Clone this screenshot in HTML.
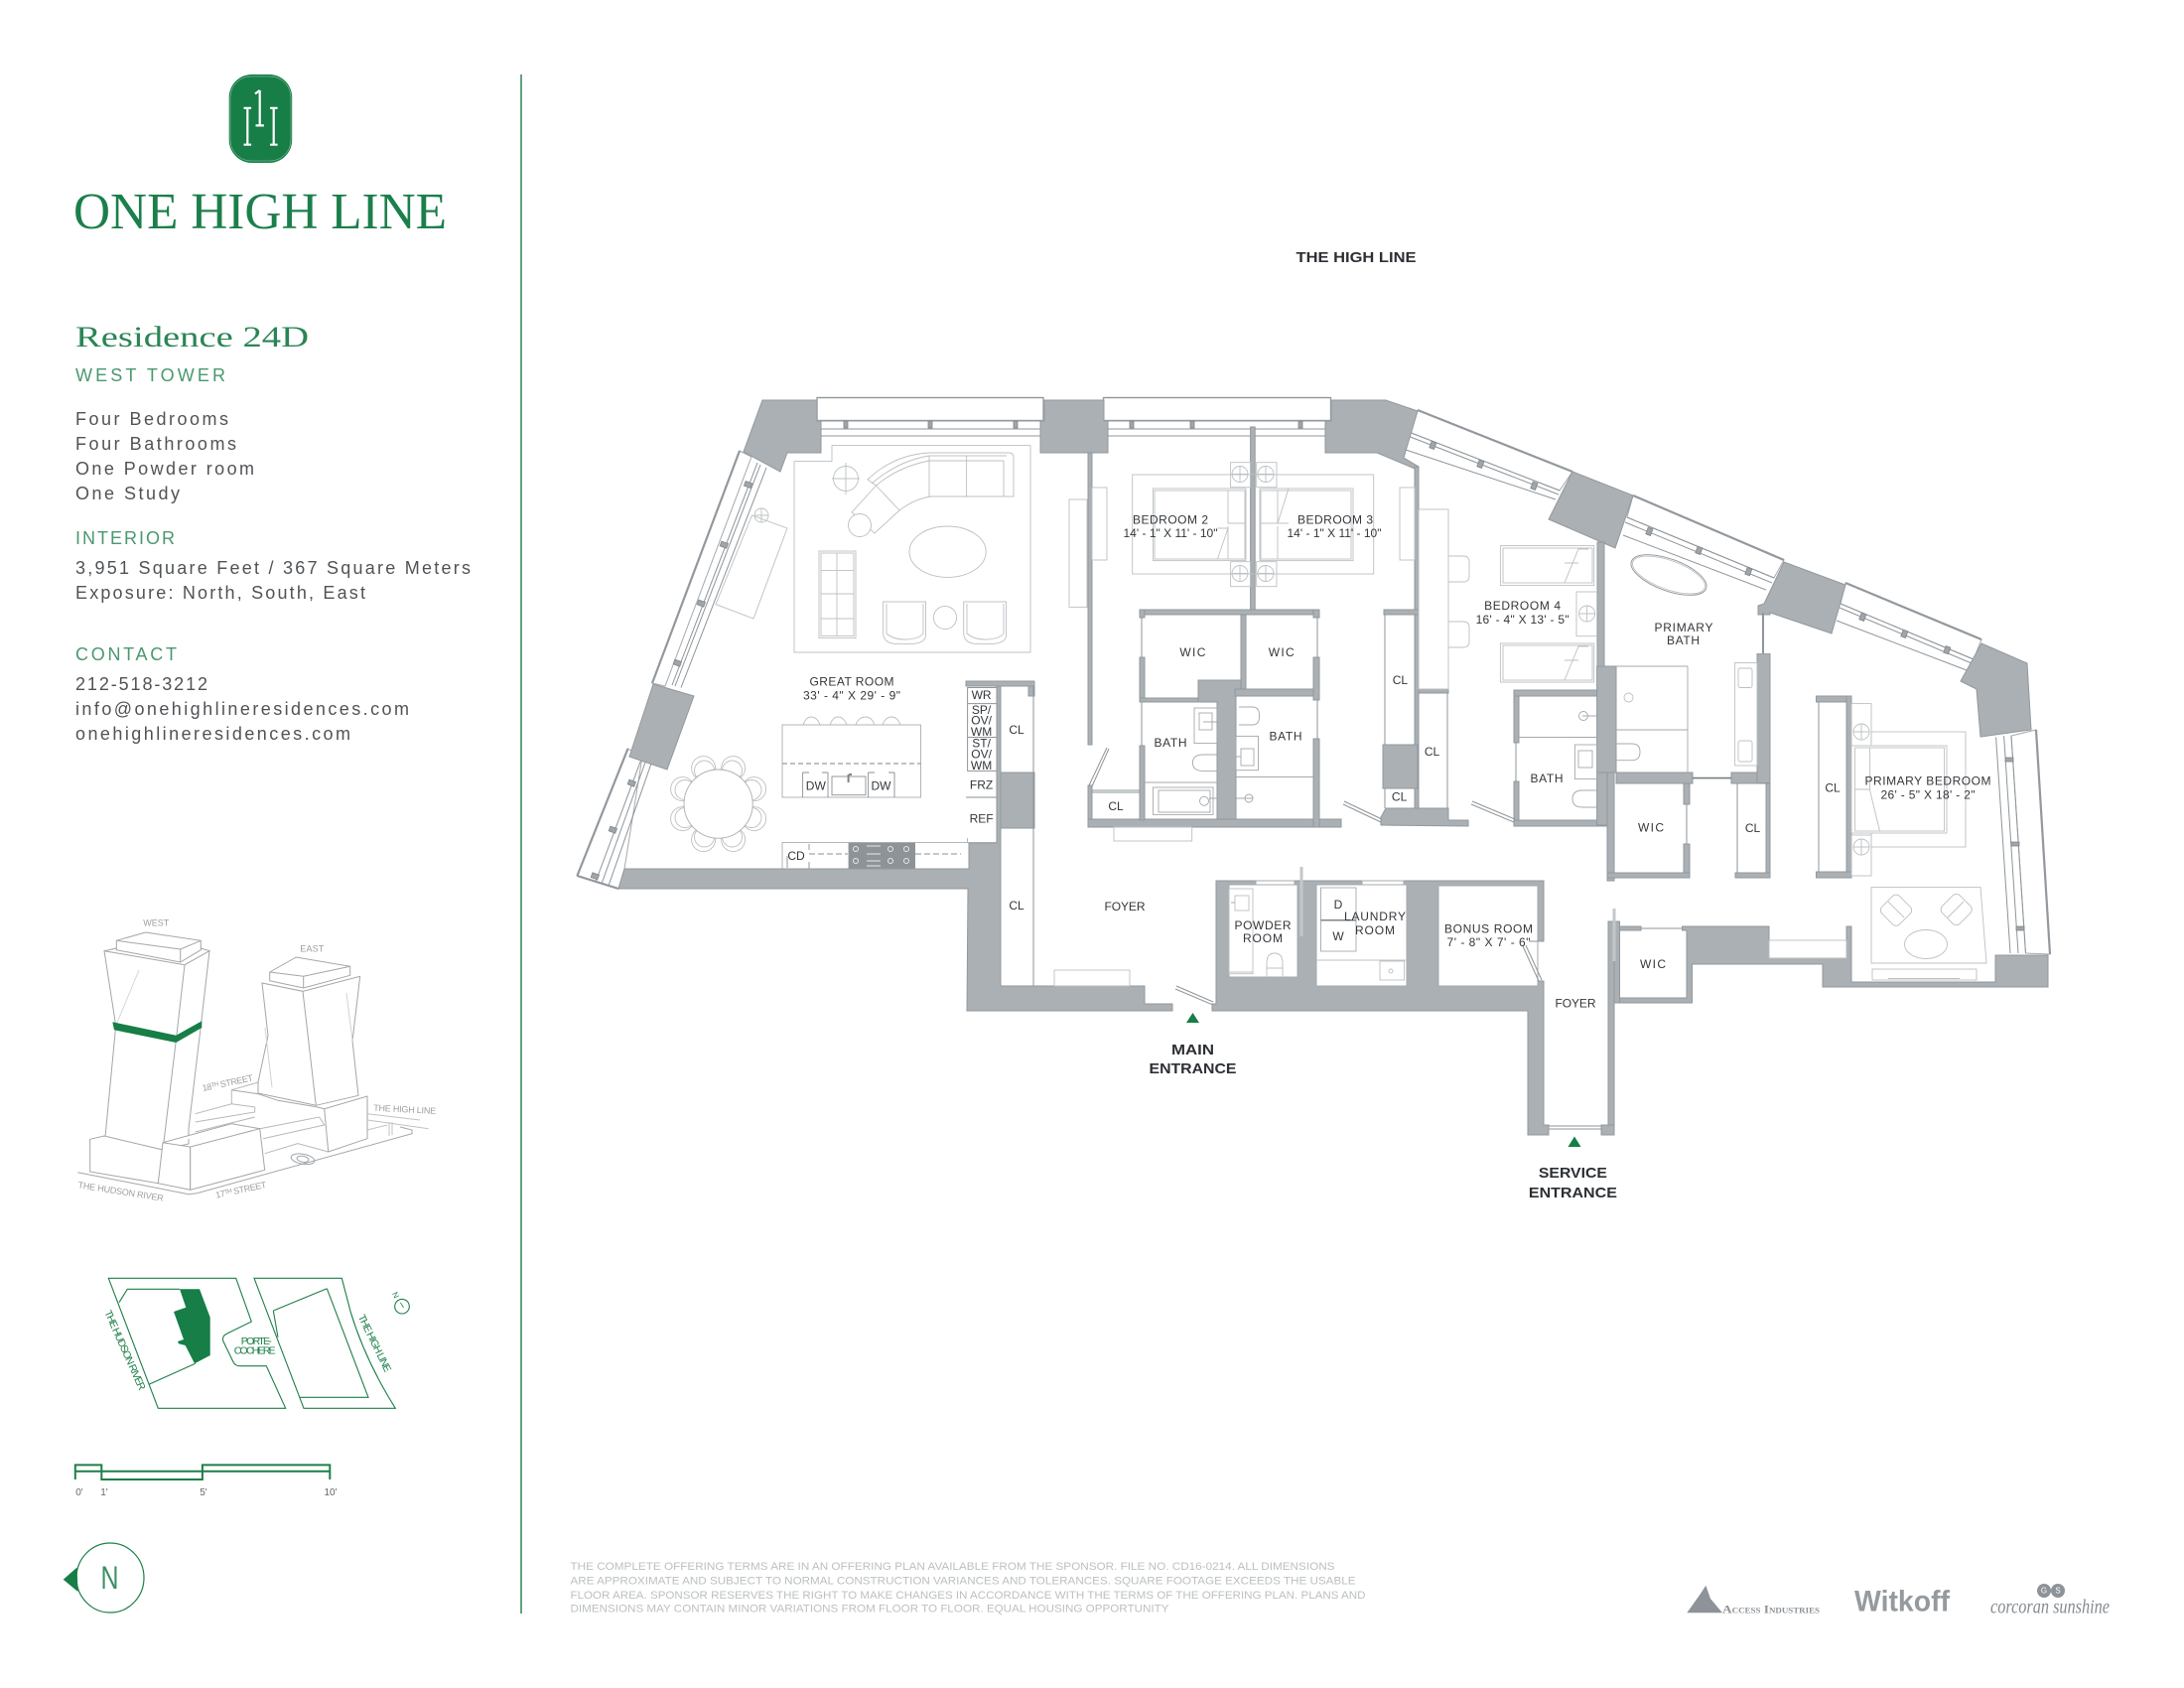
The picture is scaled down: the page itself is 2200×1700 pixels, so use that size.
<!DOCTYPE html>
<html><head><meta charset="utf-8"><title>Residence 24D</title>
<style>
html,body{margin:0;padding:0;background:#fff}
svg{display:block}
text{font-family:"Liberation Sans",sans-serif;fill:#33363a;dominant-baseline:central;text-anchor:middle}
.l{font-size:12px}
.t{text-anchor:start;dominant-baseline:alphabetic;font-size:18px;fill:#505356}
.g{text-anchor:start;dominant-baseline:alphabetic;font-size:18px;fill:#4a9870}
.w{fill:#abb0b4;stroke:#92989d;stroke-width:1}
.f{fill:#fff;stroke:#a5aaae;stroke-width:1}
.n{fill:none;stroke:#bcc0c3;stroke-width:.9}
.d{fill:none;stroke:#8e9499;stroke-width:1}
.o{fill:#fff;stroke:#9aa0a4;stroke-width:1.4}
.m{fill:#a0a5a9;stroke:#7f858a;stroke-width:.8}
.gl{fill:none;stroke:#1d7f48;stroke-width:1.1}
.s{font-size:9px;fill:#9a9ea2}
.sg{font-size:10.5px;fill:#1d7f48}
.dis{text-anchor:start;font-size:11px;fill:#bcc0c3}
</style></head><body>
<svg xmlns="http://www.w3.org/2000/svg" width="2200" height="1700" viewBox="0 0 2200 1700">
<rect width="2200" height="1700" fill="#fff"/>

<!-- LEFT PANEL -->
<line x1="525" y1="75" x2="525" y2="1625" stroke="#2b8556" stroke-width="1.5"/>
<rect x="230.7" y="75" width="63.5" height="89" rx="23" fill="#167e46"/>
<rect x="232" y="77" width="61" height="85" rx="21" fill="none" stroke="#a9cfba" stroke-width=".5"/>
<g stroke="#fff" stroke-width="2.2" fill="none">
<path d="M249.3 108.5V146M245.5 108.8h7.6M245.5 145.7h7.6M261.7 91V126.5M257.5 126.4h8.4M257 94.5l4.7-3.5M275.7 108.5V146M272 108.8h7.6M272 145.7h7.6"/>
</g>
<text x="74" y="230" style="font-family:'Liberation Serif',serif;font-size:52px;fill:#1c7f4b;text-anchor:start;dominant-baseline:alphabetic" textLength="376" lengthAdjust="spacingAndGlyphs">ONE HIGH LINE</text>
<text x="76" y="349" style="font-family:'Liberation Serif',serif;font-size:30px;fill:#2a8556;text-anchor:start;dominant-baseline:alphabetic" textLength="235" lengthAdjust="spacingAndGlyphs">Residence 24D</text>
<text class="g" x="76" y="384" textLength="151">WEST TOWER</text>
<text class="t" x="76" y="428" textLength="154">Four Bedrooms</text>
<text class="t" x="76" y="453" textLength="162">Four Bathrooms</text>
<text class="t" x="76" y="478" textLength="180">One Powder room</text>
<text class="t" x="76" y="503" textLength="105">One Study</text>
<text class="g" x="76" y="548" textLength="100">INTERIOR</text>
<text class="t" x="76" y="578" textLength="398">3,951 Square Feet / 367 Square Meters</text>
<text class="t" x="76" y="603" textLength="292">Exposure: North, South, East</text>
<text class="g" x="76" y="665" textLength="102">CONTACT</text>
<text class="t" x="76" y="695" textLength="133">212-518-3212</text>
<text class="t" x="76" y="720" textLength="336">info@onehighlineresidences.com</text>
<text class="t" x="76" y="745" textLength="277">onehighlineresidences.com</text>

<!-- Towers -->
<g fill="#fff" stroke="#a2a6aa" stroke-width="1">
<path d="M78.3 1180.7L190 1202.7 198.3 1201.7 415 1141.7 415 1138 403 1135" fill="none"/>
<path d="M370 1121.7L423 1128M370 1128L431.7 1136.7M370 1138L390 1133M392 1130V1144M395 1130V1143" fill="none" stroke="#c0c3c6"/>
<path d="M233.3 1097.7L260 1090M233.3 1097.7V1111.7L196.7 1121.7M196.7 1130L256.7 1120 256.7 1115 233.3 1111.7M196.7 1140L256.7 1125" fill="none" stroke="#b5b9bc"/>
<path d="M261.7 1136.7L321.7 1125 326.7 1133 265 1146.7M266.7 1161.7L300 1151.7 330.7 1160" fill="none" stroke="#b5b9bc"/>
<path d="M105 957.7L186 971.7 211 957.7 202.7 1030 190 1136.7 190 1152 164 1158 106 1145 116.7 1033Z"/>
<path d="M186 971.7L177.3 1048 165 1150" fill="none"/>
<path d="M140 977L116.7 1033" fill="none" stroke="#d5d7d9"/>
<path d="M105 957.7L117.3 955M202.3 955L211 957.7" fill="none"/>
<path d="M117.3 947.3L146.7 939 202.3 947.3 202.3 956.7 181.7 969 117.3 956.7Z"/>
<path d="M117.3 947.3L181.7 956 202.3 947.3M181.7 956V969" fill="none"/>
<path d="M90.7 1147.3L105 1144 164 1158 159.3 1191.7 90.7 1180Z"/>
<path d="M164 1150.7L191.7 1155 191.7 1198.3 159.3 1191.7Z"/>
<path d="M164 1150.7L233.3 1131.7 261.7 1136.7 266.7 1178.3 191.7 1198.3 191.7 1155 261.7 1136.7" />
<path d="M264 990L305 998.3 362.7 983.3 355 1048.3 361 1103.3 318.3 1113.3 260 1101 260 1090 270 1043Z"/>
<path d="M305 998.3L318.3 1113.3" fill="none"/>
<path d="M349 1000L355 1048M267 1035L274 1095" fill="none" stroke="#cfd2d4"/>
<path d="M271.7 979L298.3 964 352.7 973.3 352.7 982.3 305.7 995 271.7 987.7Z"/>
<path d="M271.7 979L305.7 983.3 352.7 973.3M305.7 983.3V995" fill="none"/>
<path d="M233.3 1097.7L260 1101.7 280 1108.3 320 1115 326.7 1116.7 370 1104 370 1146.7 330.7 1160 326.7 1116.7" />
<ellipse cx="305" cy="1167.3" rx="12" ry="5" fill="none" transform="rotate(10 305 1167.3)"/>
<ellipse cx="305" cy="1167.3" rx="6" ry="3" fill="none" transform="rotate(10 305 1167.3)"/>
</g>
<polygon points="113.3,1029.3 177.3,1042.7 203.3,1028.3 203.3,1035 177.3,1050 115,1037.3" fill="#167e46"/>
<text class="s" x="157.3" y="929.3" textLength="26">WEST</text>
<text class="s" x="314.3" y="955.7" textLength="24">EAST</text>
<text class="s" transform="translate(229.3 1090.7) rotate(-12)" x="0" y="0" textLength="52">18ᵀᴴ STREET</text>
<text class="s" transform="translate(407.7 1117.3) rotate(3)" x="0" y="0" textLength="63">THE HIGH LINE</text>
<text class="s" transform="translate(121.7 1200) rotate(9)" x="0" y="0" textLength="87">THE HUDSON RIVER</text>
<text class="s" transform="translate(242.7 1198.3) rotate(-12)" x="0" y="0" textLength="52">17ᵀᴴ STREET</text>

<!-- Site plan -->
<path class="gl" d="M109.3 1287.3H237.7L253.3 1331 228.3 1343.3Q223 1346 225 1351L235 1371.7Q237 1375.7 241.7 1375.7H268.3L287.7 1418.3H159.3Z"/>
<path class="gl" d="M120 1311.7L128.3 1298.3H181M150 1394.3L196.7 1373.3"/>
<polygon points="181,1298.3 201,1298.3 211.7,1326.7 211.7,1365 196,1373.3 186.7,1355 180,1353.3 179,1351 185,1349 175,1321 187.3,1316.7" fill="#167e46"/>
<path class="gl" d="M256 1287.3H344.3L353.3 1321.7Q368 1370 398.3 1418.3H306Z"/>
<path class="gl" d="M329.3 1297.7L371 1407.3H302.3M275.3 1320L329.3 1297.7M275.3 1320L280 1346.7"/>
<text class="sg" x="258.3" y="1351" textLength="31">PORTE-</text>
<text class="sg" x="256.7" y="1360.3" textLength="42">COCHERE</text>
<text class="sg" transform="translate(125.5 1360) rotate(66)" x="0" y="0" textLength="87">THE HUDSON RIVER</text>
<text class="sg" transform="translate(377 1353) rotate(64)" x="0" y="0" textLength="63">THE HIGH LINE</text>
<circle cx="405" cy="1315.7" r="7.3" class="gl" stroke-width=".9"/>
<path d="M403.3 1311.7L406.6 1317" stroke="#1d7f48" stroke-width=".8"/>
<text class="sg" transform="translate(398.3 1304.3) rotate(65)" x="0" y="0" style="font-size:8px">N</text>
<path class="gl" style="stroke-width:2" d="M75.8 1490V1475.4H102.3V1490H203.9V1475.4H332.3V1490M75.8 1481.7H332.3"/>
<text x="80" y="1503.5" style="font-size:10px;fill:#666">0'</text><text x="105" y="1503.5" style="font-size:10px;fill:#666">1'</text><text x="205" y="1503.5" style="font-size:10px;fill:#666">5'</text><text x="333" y="1503.5" style="font-size:10px;fill:#666">10'</text>
<ellipse cx="111" cy="1589" rx="34" ry="35" fill="#fff" stroke="#1d7f48" stroke-width="1.2"/>
<polygon points="63.7,1590.8 77.5,1578.6 78.5,1603" fill="#167e46"/>
<text x="110.5" y="1589" style="font-size:32px;fill:#3b9068" textLength="18" lengthAdjust="spacingAndGlyphs">N</text>

<!-- WINDOWS -->
<g>
<rect class="o" x="823" y="400.5" width="228" height="23"/>
<rect class="o" x="1111.5" y="400.5" width="229" height="23"/>
<path class="d" d="M827 432H1048M827 439H1048M1116 432H1335M1116 439H1335"/>
<path class="d" stroke-width="2" d="M823 400.5H1051M1111.5 400.5H1340.5M827 424H1048M1116 424H1335"/>
<g class="m"><rect x="850" y="424" width="4" height="7"/><rect x="935" y="424" width="4" height="7"/><rect x="1021" y="424" width="4" height="7"/><rect x="1138" y="424" width="4" height="7"/><rect x="1199" y="424" width="4" height="7"/><rect x="1308" y="424" width="4" height="7"/></g>

<polygon class="f" points="745,454 657,688 670,691 757,460"/>
<line x1="745" y1="454" x2="657" y2="688" stroke="#92989d" stroke-width="2.2"/>
<path class="d" d="M763 466L677 690M766 468L680 691M772 471L686 692.5"/>
<g class="m"><rect x="750" y="485" width="7" height="5" transform="rotate(20 752 488)"/><rect x="726" y="546" width="7" height="5" transform="rotate(20 729 548)"/><rect x="703" y="605" width="7" height="5" transform="rotate(20 706 607)"/><rect x="679" y="665" width="7" height="5" transform="rotate(20 682 667)"/></g>
<polygon class="f" points="632.5,754 581.4,882 623,895 629,875 647,762"/>
<line x1="632.5" y1="754" x2="581.4" y2="882" stroke="#92989d" stroke-width="2.2"/>
<line x1="581.4" y1="882" x2="623" y2="895" stroke="#92989d" stroke-width="2.2"/>
<path class="d" d="M647 762L600 888M651 765L606 890M656 769L613 892"/>
<g class="m"><rect x="633" y="786" width="7" height="5" transform="rotate(20 636 788)"/><rect x="614" y="833" width="7" height="5" transform="rotate(20 617 835)"/><rect x="596" y="880" width="7" height="5" transform="rotate(20 600 882)"/></g>

<polygon class="f" points="1428,413 1584,475 1571,494 1419,435"/>
<line x1="1428" y1="413" x2="1584" y2="475" stroke="#92989d" stroke-width="2.2"/>
<path class="d" d="M1419 435L1571 494M1418 439L1570 498M1416 453L1567 503"/>
<g class="m"><rect x="1441" y="445" width="5" height="7" transform="rotate(20 1444 448)"/><rect x="1489" y="464" width="5" height="7" transform="rotate(20 1492 467)"/><rect x="1543" y="486" width="5" height="7" transform="rotate(20 1546 489)"/></g>

<polygon class="f" points="1645,499 1797,564 1787,582 1639,521"/>
<line x1="1645" y1="499" x2="1797" y2="564" stroke="#92989d" stroke-width="2.2"/>
<path class="d" d="M1639 521L1787 582M1637 526L1785 587M1635 539L1779 594"/>
<g class="m"><rect x="1659" y="532" width="5" height="7" transform="rotate(20 1662 535)"/><rect x="1709" y="551" width="5" height="7" transform="rotate(20 1712 554)"/><rect x="1759" y="572" width="5" height="7" transform="rotate(20 1761 575)"/></g>

<polygon class="f" points="1859,587 1996,644 1988,664 1854,608"/>
<line x1="1859" y1="587" x2="1996" y2="644" stroke="#92989d" stroke-width="2.2"/>
<path class="d" d="M1854 608L1988 664M1853 612L1986 668M1850 625L1981 675"/>
<g class="m"><rect x="1874" y="618" width="5" height="7" transform="rotate(20 1877 621)"/><rect x="1916" y="635" width="5" height="7" transform="rotate(20 1919 638)"/><rect x="1959" y="651" width="5" height="7" transform="rotate(20 1961 654)"/></g>

<polygon class="f" points="2051,735 2065,961 2040.5,960 2026,741"/>
<line x1="2051" y1="735" x2="2065" y2="961" stroke="#92989d" stroke-width="2.2"/>
<path class="d" d="M2010.6 742.5L2025 960M2018.6 741L2033 960M2026 741L2040.5 960"/>
<g class="m"><rect x="2020" y="763" width="8" height="4"/><rect x="2026" y="848" width="8" height="4"/><rect x="2031" y="933" width="8" height="4"/></g>
</g>

<!-- FURNITURE (great room) -->
<g class="n">
<polygon class="n" points="838,448.6 1038,448.6 1038,657 800,657 800,464.6 838,464.6"/>
<circle cx="852" cy="482" r="12.5"/><path d="M838 482H866M852 466V498"/>
<path fill="#fff" d="M874 483Q900 458 936 456H1016Q1021 456 1021 461V500H973.6 938Q922 502 906 514L881 537 858 516 882.5 489Z"/>
<path d="M936 459V500.7M973.6 459V500.7M1011 464V500M878 487Q905 464 936 459H1014M882.5 489Q905 470 936 464H1011M882.5 489L906 514"/>
<circle cx="866" cy="529" r="11.5" fill="#fff"/>
<ellipse cx="954.6" cy="555.7" rx="38.6" ry="25.7"/>
<rect x="825" y="555" width="37" height="87.5"/><rect x="827" y="557" width="33" height="83.5"/><path d="M843 557V640M827 574.6H860M827 598H860M827 623H860"/>
<path d="M889.6 606H932.5V640Q932 648.6 915 648.6H905Q890 648.6 889.6 638ZM893 608V638Q900 644 911 644 925 644 930 638V608"/>
<path d="M970.7 606H1013.6V640Q1013 648.6 996 648.6H986Q971 648.6 970.7 638ZM974 608V638Q981 644 992 644 1006 644 1011 638V608"/>
<circle cx="952" cy="622" r="11.6"/>
<polygon points="757.5,519 793,532 759,623 721,608.6"/>
<circle cx="767" cy="519" r="7"/><path d="M767 512V526M760 519H774"/>
<!-- dining -->
<g>
<circle cx="759.6" cy="824.6" r="12"/><circle cx="759.6" cy="794.6" r="12"/><circle cx="738.6" cy="845.6" r="12"/><circle cx="738.6" cy="773.6" r="12"/><circle cx="708.6" cy="845.6" r="12"/><circle cx="708.6" cy="773.6" r="12"/><circle cx="687.6" cy="824.6" r="12"/><circle cx="687.6" cy="794.6" r="12"/>
<circle cx="757" cy="823.5" r="10"/><circle cx="757" cy="795.5" r="10"/><circle cx="737.5" cy="843" r="10"/><circle cx="737.5" cy="776" r="10"/><circle cx="709.5" cy="843" r="10"/><circle cx="709.5" cy="776" r="10"/><circle cx="690" cy="823.5" r="10"/><circle cx="690" cy="795.5" r="10"/>
</g>
<circle cx="723.6" cy="809.6" r="34.6" fill="#fff" stroke="#a9adb1"/>
<!-- island -->
<path d="M809 730Q812 722 817 722 823 722 826 730M836 730Q839 722 844 722 850 722 853 730M862 730Q865 722 872 722 878 722 881 730M889 730Q892 722 898 722 904 722 907 730"/>
<rect x="788" y="730" width="139.5" height="73" stroke="#a9adb1"/>
<path d="M788 769H927.5" stroke-dasharray="5 3" stroke="#7f858a"/>
<path d="M808.6 803V778M834 803V778M874.6 803V778M901 803V778M808.6 778H815M828 778H834M874.6 778H881M895 778H901" stroke="#8a9095"/>
<rect x="838" y="782" width="34" height="18.7" stroke="#8a9095"/>
<path d="M854.6 780V788M855 780H858" stroke="#7f858a" stroke-width="2"/>
<path d="M788 875V848.6H976M974.6 844V848.6H1004" stroke="#a9adb1"/>
<path d="M815 860H854M922 860H968" stroke-dasharray="6 3" stroke="#8a9095"/>
<path d="M793 874V862M815 856V850M815 875V868" stroke="#8a9095"/>
<path d="M973 803H1004" stroke="#8a9095"/>
</g>
<rect x="854.6" y="848.6" width="67.4" height="26" fill="#8e9398"/>
<g fill="none" stroke="#e8e9ea" stroke-width="1"><circle cx="862" cy="855" r="2.5"/><circle cx="862" cy="867" r="2.5"/><circle cx="897" cy="855" r="2.5"/><circle cx="897" cy="867" r="2.5"/><circle cx="913" cy="855" r="2.5"/><circle cx="913" cy="867" r="2.5"/><path d="M873 852H887M873 860H887M873 867H887M873 872H887"/></g>
<rect x="974.6" y="692.5" width="29.4" height="83.9" fill="#fff" stroke="#8e9499"/>
<path class="d" d="M974.6 708.6H1004M974.6 742.5H1004"/>

<!-- WALLS -->
<g>
<polygon class="w" points="768,403 823,403 823,424 827,424 827,456 793,456 786,475 749,455"/>
<polygon class="w" points="658,689 699,701 672,775 634,762"/>
<polygon class="w" points="629,875 976,875 976,849 1004,849 1004,686 1008,686 1008,993 1153,993 1153,1011 1181,1011 1181,1018 974,1018 975,895 623,895"/>
<rect class="w" x="973" y="686" width="69" height="5"/>
<rect class="w" x="1008" y="778" width="34" height="56"/>
<rect class="w" x="1036" y="691" width="6" height="10"/>
<polygon class="w" points="1048,424 1052,424 1052,403 1112,403 1112,424 1116,424 1116,456 1048,456"/>
<rect class="w" x="1096" y="456" width="4" height="294"/>
<rect class="w" x="1096" y="791" width="4" height="42"/>
<rect class="w" x="1096" y="825" width="255" height="8"/>
<rect class="w" x="1148" y="614" width="181" height="5"/>
<rect class="w" x="1148" y="614" width="5" height="8"/>
<rect class="w" x="1148" y="662" width="5" height="45"/>
<rect class="w" x="1148" y="751" width="5" height="75"/>
<rect class="w" x="1148" y="703" width="78" height="4"/>
<polygon class="w" points="1207,685 1250,685 1250,694 1245,694 1245,825 1226,825 1226,707 1207,707"/>
<rect class="w" x="1250" y="619" width="5" height="75"/>
<rect class="w" x="1244" y="694" width="85" height="7"/>
<rect class="w" x="1323" y="614" width="6" height="8"/>
<rect class="w" x="1323" y="662" width="6" height="43"/>
<rect class="w" x="1323" y="744" width="6" height="89"/>
<rect class="w" x="1259.6" y="430" width="4.6" height="184"/>
<polygon class="w" points="1335,424 1341,424 1341,403 1396,403 1428,414 1414,461 1429,470 1425,472 1387,456 1335,456"/>
<rect class="w" x="1425" y="470" width="4" height="345"/>
<rect class="w" x="1394" y="614" width="35" height="5"/>
<rect class="w" x="1393" y="750" width="35" height="44"/>
<polygon class="w" points="1391,831 1391,823 1396,814 1459,814 1459,826 1479,826 1479,832"/>
<rect class="w" x="1429" y="694" width="30" height="4"/>
<polygon class="w" points="1584,475 1645,499 1627,552 1560,523"/>
<rect class="w" x="1609" y="546" width="7" height="125"/>
<rect class="w" x="1525" y="695" width="5" height="53"/>
<rect class="w" x="1525" y="787" width="5" height="45"/>
<rect class="w" x="1525" y="695" width="84" height="6"/>
<rect class="w" x="1525" y="826" width="94" height="6"/>
<rect class="w" x="1608.6" y="671" width="19.4" height="107"/>
<rect class="w" x="1608.6" y="778" width="17.4" height="53"/>
<rect class="w" x="1619" y="778" width="7" height="109"/>
<rect class="w" x="1628" y="778" width="77" height="11"/>
<rect class="w" x="1696" y="789" width="6" height="21"/>
<rect class="w" x="1696" y="850" width="6" height="34"/>
<rect class="w" x="1619" y="879" width="83" height="5"/>
<rect class="w" x="1744" y="778" width="39" height="11"/>
<rect class="w" x="1770" y="658.6" width="13" height="130"/>
<rect class="w" x="1779" y="789" width="4" height="95"/>
<rect class="w" x="1748" y="879" width="35" height="5"/>
<rect class="w" x="1829.5" y="701" width="35.5" height="6"/>
<rect class="w" x="1860" y="701" width="5" height="183"/>
<rect class="w" x="1829.5" y="878" width="35.5" height="6"/>
<polygon class="w" points="1797,566 1859,589 1845,638 1783,617 1783,619 1771,619 1771,610 1777,608"/>
<polygon class="w" points="1996,648 2042,668 2046,735 1995,742 1991,694 1975,686"/>
<polygon class="w" points="1625,1010 1704.5,1010 1704.5,971 1836,971 1836,994 2063,994 2063,962 2010,962 2010,989 1865,989 1865,933 1860,933 1860,965 1782,965 1782,933 1694.5,933 1694.5,937 1699,937 1699,1005 1631.5,1005 1631.5,937 1653,937 1653,933 1631.5,933 1631.5,1010"/>
<rect class="w" x="1620" y="928" width="11.5" height="82"/>
<rect class="w" x="1620" y="928" width="6" height="215"/>
<rect class="w" x="1613" y="1133" width="13" height="10"/>
<polygon class="w" points="1225,887 1555,887 1555,948 1549,948 1549,988 1555,988 1555,1133 1560,1133 1560,1143 1539,1143 1539,1018 1221,1018 1221,1011 1225,1011"/>
<rect class="f" x="1238" y="891" width="69" height="93"/>
<rect class="f" x="1326" y="891" width="91" height="102"/>
<rect class="f" x="1449" y="892" width="100" height="101"/>
<rect x="1549.5" y="949" width="8" height="38" fill="#fff"/>
<rect class="f" x="1265" y="887" width="39" height="4"/>
<rect class="f" x="1372" y="887" width="42" height="4"/>
<line x1="1311" y1="873" x2="1311" y2="943" stroke="#c4c7ca" stroke-width="3"/>
<line x1="1626" y1="915" x2="1626" y2="968" stroke="#c4c7ca" stroke-width="3"/>
</g>
<!-- thin closets & glass -->
<g class="d">
<path d="M1150 622V662M1150 707V751M1327 622V662M1327 705V744M1395 619V750M1395 794V814M1458 698V814M1527 748V787M1699 810V850M1750 789V879M1832 707V878M1041 691V993M1100 796H1148M1100 798H1148"/>
<path d="M1097 791L1115 753M1100 792L1117 754" />
<path d="M1353 810L1391 828M1354 807L1392 825M1482 810L1525 828M1483 807L1526 825"/>
<path d="M1184 996L1221 1011.7M1185 993L1222 1009"/>
<path d="M1534 953L1550 988M1537 952L1553 987M1549 948H1540"/>
<path d="M1560 1134H1613M1560 1137H1613M1653 935H1694"/>
</g>
<line x1="1705" y1="783.6" x2="1744" y2="783.6" stroke="#747b80" stroke-width="1.6"/>
<line x1="1776" y1="617" x2="1776" y2="658" stroke="#8f959a" stroke-width="2"/>

<!-- FURNITURE others -->
<g class="n">
<rect x="1077" y="503" width="18" height="108.4"/><rect x="1100" y="491" width="15" height="73"/>
<rect x="1140.7" y="478" width="243" height="100"/>
<rect x="1161.4" y="492" width="93.6" height="72.6" fill="#fff"/><rect x="1269" y="492" width="94" height="72.6" fill="#fff"/>
<rect x="1163" y="494" width="91" height="69"/><rect x="1270" y="494" width="91" height="69"/>
<path d="M1237 494V527H1254M1237 530V563M1226.4 532H1237L1226.4 563M1287 494V527H1270M1287 530V563M1298 492L1287 527 1298 527"/>
<rect x="1239.6" y="465.7" width="20" height="25"/><rect x="1265.7" y="465.7" width="20.3" height="25"/><rect x="1239.6" y="565.7" width="20" height="25"/><rect x="1265.7" y="565.7" width="20.3" height="25"/>
<circle cx="1249" cy="477.5" r="8"/><circle cx="1275" cy="477.5" r="8"/><circle cx="1249" cy="577.5" r="8"/><circle cx="1275" cy="577.5" r="8"/>
<path d="M1241 477.5H1257M1249 469.5V485.5M1267 477.5H1283M1275 469.5V485.5M1241 577.5H1257M1249 569.5V585.5M1267 577.5H1283M1275 569.5V585.5"/>
<rect x="1410" y="491" width="15" height="73"/>
<rect x="1429" y="513" width="30" height="181"/>
<path d="M1459 560H1474Q1480 560 1480 566V580Q1480 586 1474 586H1459M1459 626H1474Q1480 626 1480 632V646Q1480 652 1474 652H1459"/>
<rect x="1511.4" y="549.6" width="94.3" height="40"/><rect x="1514" y="552" width="90" height="35"/>
<rect x="1511.4" y="648" width="94.3" height="39"/><rect x="1514" y="650" width="90" height="35"/>
<path d="M1576 587L1590 553H1600M1576 685L1590 651H1600M1576 567H1590M1576 665H1590"/>
<rect x="1588" y="596" width="20.6" height="44.7"/><circle cx="1598.6" cy="618" r="8"/><path d="M1590 618H1607M1598.6 610V626"/>
<rect x="1122" y="833" width="78.7" height="14"/>
<rect x="1062" y="977" width="76" height="16"/>
<!-- baths -->
<g stroke="#a4a8ac">
<rect x="1203" y="713" width="23.4" height="35.6"/><rect x="1208" y="718" width="13" height="17"/>
<path d="M1226.4 760H1212Q1201.4 760 1201.4 768 1201.4 776.4 1212 776.4H1226.4"/>
<path d="M1153 788H1226"/><rect x="1161.4" y="793" width="60.6" height="27.4"/><rect x="1167" y="796" width="52" height="22"/><circle cx="1213" cy="806.8" r="4.5" fill="#fff"/>
<path d="M1248 712H1262Q1268.6 712 1268.6 721 1268.6 730 1262 730H1248"/>
<rect x="1245" y="741.4" width="22.5" height="34.3"/><rect x="1250" y="754" width="13" height="17"/>
<path d="M1245 782.5H1323"/><circle cx="1258" cy="804" r="4"/>
<path d="M1530 742.5H1608.6"/><circle cx="1595" cy="721" r="4.5"/>
<rect x="1586.4" y="750" width="22.2" height="34.6"/><rect x="1590" y="756" width="14" height="17"/>
<path d="M1608.6 796H1594Q1584 796 1584 804.5 1584 813 1594 813H1608.6"/>
<path d="M1212 727H1226M1218 804H1226M1250 762H1245M1262 804H1245M1594 721H1608M1240 909H1244"/>
</g>
<!-- primary -->
<path d="M1700 671H1628M1700 671V778M1628 735H1700" stroke="#a4a8ac"/><circle cx="1640.5" cy="702.5" r="4.5" fill="#fff"/>
<path d="M1628 749H1644Q1652 749 1652 757 1652 765.7 1644 765.7H1628" stroke="#a4a8ac"/>
<rect x="1747.6" y="667.5" width="22.4" height="103.5"/><rect x="1751" y="673" width="14" height="19.5" rx="2"/><rect x="1751" y="746" width="14" height="21" rx="2"/>
<ellipse cx="1681" cy="579" rx="40" ry="16" transform="rotate(20 1681 579)" stroke="#8e9499"/>
<ellipse cx="1681" cy="579" rx="38.5" ry="14.5" transform="rotate(20 1681 579)"/>
<rect x="1865" y="708.6" width="20" height="42.4"/><rect x="1865" y="841" width="20" height="41"/>
<circle cx="1875" cy="737" r="8"/><circle cx="1875" cy="853" r="8"/><path d="M1867 737H1883M1875 729V745M1867 853H1883M1875 845V861"/>
<rect x="1885" y="737" width="95" height="116"/>
<rect x="1865" y="751" width="96" height="88" fill="#fff"/><rect x="1868.6" y="753" width="90" height="84"/>
<path d="M1868.6 795H1883.6M1883.6 753V796L1893.5 837"/>
<polygon points="1885,893.6 1995,893.6 2001,970 1885,970"/>
<g fill="#fff"><rect x="1898" y="904" width="25" height="25" rx="5" transform="rotate(45 1910 916)"/><rect x="1958" y="904" width="25" height="25" rx="5" transform="rotate(-45 1970 916)"/><path d="M1902 908L1918 924M1978 908L1962 924"/></g>
<ellipse cx="1940" cy="951" rx="21.5" ry="14.5"/>
<rect x="1886" y="976" width="105" height="11"/><path d="M1902 985.5H1974"/>
<rect x="1782" y="947" width="78" height="18"/>
<!-- powder/laundry -->
<rect x="1238" y="895" width="24" height="85.7"/><rect x="1244" y="902" width="14" height="15"/>
<path d="M1238 979H1262M1276 984V970Q1276 960 1284 960 1292 960 1292 970V984M1276 975H1292"/>
<rect x="1330.5" y="894" width="35.5" height="64" stroke="#a4a8ac"/><path d="M1330.5 926.7H1366" stroke="#7f858a" stroke-width="1.5"/>
<path d="M1326 967H1417"/><rect x="1390" y="968" width="24.6" height="19"/><circle cx="1401" cy="978" r="2"/>
</g>

<!-- LABELS -->
<g>
<text class="l" x="858" y="686.4" textLength="85">GREAT ROOM</text>
<text class="l" x="858" y="700.4" textLength="98">33' - 4" X 29' - 9"</text>
<text class="l" x="1179" y="523.6" textLength="76">BEDROOM 2</text>
<text class="l" x="1179" y="537" textLength="95">14' - 1" X 11' - 10"</text>
<text class="l" x="1345" y="523.6" textLength="76">BEDROOM 3</text>
<text class="l" x="1344" y="537" textLength="95">14' - 1" X 11' - 10"</text>
<text class="l" x="1533.6" y="610" textLength="77">BEDROOM 4</text>
<text class="l" x="1533.6" y="624" textLength="94">16' - 4" X 13' - 5"</text>
<text class="l" x="1696" y="632" textLength="59">PRIMARY</text>
<text class="l" x="1695.5" y="645" textLength="33">BATH</text>
<text class="l" x="1942" y="786.4" textLength="127">PRIMARY BEDROOM</text>
<text class="l" x="1942" y="800.4" textLength="95">26' - 5" X 18' - 2"</text>
<text class="l" x="1133" y="913" textLength="41">FOYER</text>
<text class="l" x="1587" y="1010.7" textLength="41">FOYER</text>
<text class="l" x="1201.4" y="657" textLength="26">WIC</text>
<text class="l" x="1290.7" y="657" textLength="26">WIC</text>
<text class="l" x="1663" y="833.6" textLength="26">WIC</text>
<text class="l" x="1665" y="971" textLength="26">WIC</text>
<text class="l" x="1179" y="748" textLength="33">BATH</text>
<text class="l" x="1295" y="741.4" textLength="33">BATH</text>
<text class="l" x="1558" y="784" textLength="33">BATH</text>
<text class="l" x="1024" y="735">CL</text><text class="l" x="1024" y="912">CL</text><text class="l" x="1124" y="812">CL</text><text class="l" x="1410.4" y="685">CL</text><text class="l" x="1442.5" y="757">CL</text><text class="l" x="1409.6" y="802.5">CL</text><text class="l" x="1846" y="793.6">CL</text><text class="l" x="1765.5" y="834">CL</text>
<text class="l" x="988.6" y="700">WR</text><text class="l" x="988.6" y="715">SP/</text><text class="l" x="988.6" y="725.7">OV/</text><text class="l" x="988.6" y="736.8">WM</text><text class="l" x="988.6" y="748.6">ST/</text><text class="l" x="988.6" y="759.6">OV/</text><text class="l" x="988.6" y="771">WM</text>
<text class="l" x="988.6" y="790.7">FRZ</text><text class="l" x="988.6" y="824.6">REF</text>
<text class="l" x="821.8" y="791.4">DW</text><text class="l" x="887.5" y="791.4">DW</text><text class="l" x="802" y="862">CD</text>
<text class="l" x="1272" y="932" textLength="57">POWDER</text><text class="l" x="1272" y="945" textLength="40">ROOM</text>
<text class="l" x="1385" y="923" textLength="62">LAUNDRY</text><text class="l" x="1385" y="937" textLength="40">ROOM</text>
<text class="l" x="1348" y="911">D</text><text class="l" x="1348" y="943">W</text>
<text class="l" x="1499.5" y="935.7" textLength="89">BONUS ROOM</text><text class="l" x="1499.5" y="949" textLength="84">7' - 8" X 7' - 6"</text>
<text x="1201.5" y="1057.7" style="font-size:15px;font-weight:bold;fill:#2c2f33" textLength="43" lengthAdjust="spacingAndGlyphs">MAIN</text>
<text x="1201.5" y="1076.7" style="font-size:15px;font-weight:bold;fill:#2c2f33" textLength="88" lengthAdjust="spacingAndGlyphs">ENTRANCE</text>
<text x="1584.4" y="1181.7" style="font-size:15px;font-weight:bold;fill:#2c2f33" textLength="69" lengthAdjust="spacingAndGlyphs">SERVICE</text>
<text x="1584.4" y="1201.7" style="font-size:15px;font-weight:bold;fill:#2c2f33" textLength="89" lengthAdjust="spacingAndGlyphs">ENTRANCE</text>
<text x="1366" y="259.5" style="font-size:15px;font-weight:bold;fill:#2c2f33" textLength="121" lengthAdjust="spacingAndGlyphs">THE HIGH LINE</text>
</g>
<polygon points="1201.5,1020 1195,1030 1208,1030" fill="#167e46"/>
<polygon points="1586,1144.5 1579.5,1155 1592.5,1155" fill="#167e46"/>

<!-- DISCLAIMER -->
<text class="dis" x="574.5" y="1578" textLength="770" lengthAdjust="spacingAndGlyphs">THE COMPLETE OFFERING TERMS ARE IN AN OFFERING PLAN AVAILABLE FROM THE SPONSOR. FILE NO. CD16-0214. ALL DIMENSIONS</text>
<text class="dis" x="574.5" y="1592.7" textLength="791" lengthAdjust="spacingAndGlyphs">ARE APPROXIMATE AND SUBJECT TO NORMAL CONSTRUCTION VARIANCES AND TOLERANCES. SQUARE FOOTAGE EXCEEDS THE USABLE</text>
<text class="dis" x="574.5" y="1607" textLength="801" lengthAdjust="spacingAndGlyphs">FLOOR AREA. SPONSOR RESERVES THE RIGHT TO MAKE CHANGES IN ACCORDANCE WITH THE TERMS OF THE OFFERING PLAN. PLANS AND</text>
<text class="dis" x="574.5" y="1620.7" textLength="603" lengthAdjust="spacingAndGlyphs">DIMENSIONS MAY CONTAIN MINOR VARIATIONS FROM FLOOR TO FLOOR. EQUAL HOUSING OPPORTUNITY</text>
<!-- LOGOS -->
<polygon points="1699.3,1624.3 1713,1605 1718.3,1596.7 1723,1610 1735,1624.3" fill="#8d9398"/>
<text x="1735" y="1620.5" style="font-family:'Liberation Serif',serif;font-variant:small-caps;font-size:12px;font-weight:bold;fill:#8d9398;text-anchor:start" textLength="98" lengthAdjust="spacingAndGlyphs">Access Industries</text>
<text x="1916" y="1613" style="font-size:30px;font-weight:bold;fill:#959a9f" textLength="96" lengthAdjust="spacingAndGlyphs">Witkoff</text>
<text x="2065" y="1618.5" style="font-family:'Liberation Serif',serif;font-style:italic;font-size:20px;fill:#858b90" textLength="120" lengthAdjust="spacingAndGlyphs">corcoran sunshine</text>
<circle cx="2059" cy="1602" r="7" fill="#8d9398"/><circle cx="2073" cy="1602" r="7" fill="#8d9398"/>
<text x="2059" y="1602" style="font-size:8px;fill:#fff">G</text><text x="2073" y="1602" style="font-size:8px;fill:#fff">S</text>
</svg>
</body></html>
